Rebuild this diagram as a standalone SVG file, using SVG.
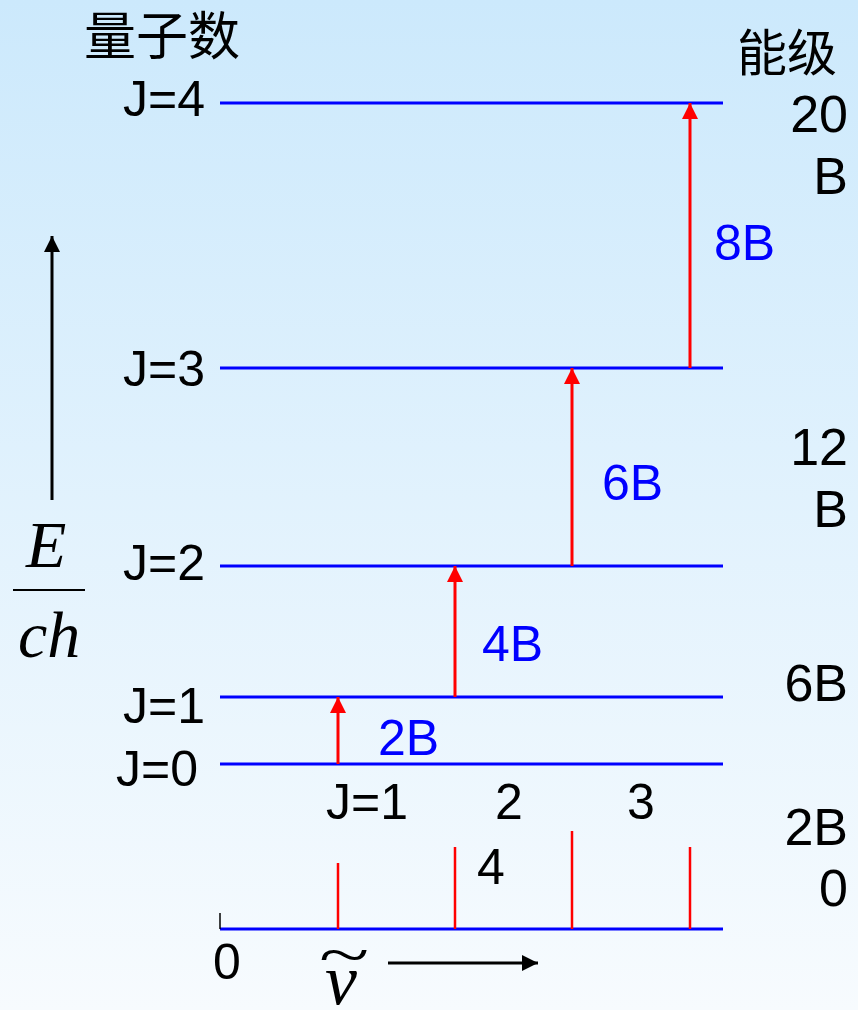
<svg xmlns="http://www.w3.org/2000/svg" width="858" height="1010" viewBox="0 0 858 1010">
<defs>
<linearGradient id="bg" x1="0" y1="0" x2="0" y2="1">
<stop offset="0" stop-color="#cce9fc"/>
<stop offset="1" stop-color="#f7fbfe"/>
</linearGradient>
<marker id="redHead" markerUnits="userSpaceOnUse" markerWidth="16" markerHeight="16" viewBox="0 0 16 16" refX="16" refY="8" orient="auto">
<path d="M0,0 L16,8 L0,16 Z" fill="#ff0000"/>
</marker>
<marker id="blackHead" markerUnits="userSpaceOnUse" markerWidth="16" markerHeight="16" viewBox="0 0 16 16" refX="16" refY="8" orient="auto">
<path d="M0,0 L16,8 L0,16 Z" fill="#000000"/>
</marker>
</defs>
<style>
.lvl{stroke:#0000ff;stroke-width:3;fill:none}
.tr{stroke:#ff0000;stroke-width:3;fill:none;marker-end:url(#redHead)}
.sp{stroke:#ff0000;stroke-width:2.5;fill:none}
.ax{stroke:#000;stroke-width:3;fill:none;marker-end:url(#blackHead)}
.t{font-family:"Liberation Sans",Arial,sans-serif;font-size:50px;fill:#000}
.b{font-family:"Liberation Sans",Arial,sans-serif;font-size:50px;fill:#0000ff}
.cjk{font-family:"Noto Sans CJK SC",sans-serif;font-size:50px;fill:#000}
.m{font-family:"Liberation Serif","Times New Roman",serif;font-style:italic;font-size:66px;fill:#000}
</style>
<rect x="0" y="0" width="858" height="1010" fill="url(#bg)"/>

<g id="headers">
<text class="cjk" x="84" y="55" style="font-size:52px">量子数</text>
<text class="cjk" x="737" y="71">能级</text>
</g>

<g id="level-J4">
<line class="lvl" x1="220" y1="103" x2="723" y2="103"/>
<text class="t" x="123" y="116">J=4</text>
<text class="t" x="848" y="132" text-anchor="end" style="font-size:52px">20</text>
<text class="t" x="848" y="194" text-anchor="end" style="font-size:52px">B</text>
</g>
<g id="level-J3">
<line class="lvl" x1="220" y1="368" x2="723" y2="368"/>
<text class="t" x="123" y="386">J=3</text>
<text class="t" x="848" y="465" text-anchor="end" style="font-size:52px">12</text>
<text class="t" x="848" y="527" text-anchor="end" style="font-size:52px">B</text>
</g>
<g id="level-J2">
<line class="lvl" x1="220" y1="566" x2="723" y2="566"/>
<text class="t" x="123" y="580">J=2</text>
</g>
<g id="level-J1">
<line class="lvl" x1="220" y1="697" x2="723" y2="697"/>
<text class="t" x="123" y="723">J=1</text>
<text class="t" x="848" y="701" text-anchor="end" style="font-size:52px">6B</text>
</g>
<g id="level-J0">
<line class="lvl" x1="220" y1="764" x2="723" y2="764"/>
<text class="t" x="116" y="786">J=0</text>
<text class="t" x="848" y="845" text-anchor="end" style="font-size:52px">2B</text>
<text class="t" x="848" y="906" text-anchor="end" style="font-size:52px">0</text>
</g>

<g id="connectors">
<line class="tr" x1="338" y1="764" x2="338" y2="697"/>
<line class="tr" x1="455" y1="697" x2="455" y2="566"/>
<line class="tr" x1="572" y1="566" x2="572" y2="368"/>
<line class="tr" x1="690" y1="368" x2="690" y2="103"/>
</g>

<g id="transition-labels">
<text class="b" x="378" y="755">2B</text>
<text class="b" x="482" y="661">4B</text>
<text class="b" x="602" y="500">6B</text>
<text class="b" x="714" y="260">8B</text>
</g>

<g id="energy-axis">
<line class="ax" x1="52" y1="500" x2="52" y2="236"/>
<text class="m" x="26" y="567">E</text>
<line x1="13" y1="590" x2="85" y2="590" stroke="#000" stroke-width="2"/>
<text class="m" x="18" y="657">ch</text>
</g>

<g id="spectrum">
<line x1="220" y1="929" x2="723" y2="929" stroke="#0000ff" stroke-width="3"/>
<line x1="220" y1="913" x2="220" y2="929" stroke="#000" stroke-width="1.5"/>
<line class="sp" x1="338" y1="863" x2="338" y2="929"/>
<line class="sp" x1="455" y1="847" x2="455" y2="929"/>
<line class="sp" x1="572" y1="831" x2="572" y2="929"/>
<line class="sp" x1="690" y1="847" x2="690" y2="929"/>
<text class="t" x="326" y="819">J=1</text>
<text class="t" x="495" y="819">2</text>
<text class="t" x="627" y="819">3</text>
<text class="t" x="477" y="884">4</text>
<text class="t" x="213" y="979">0</text>
<text transform="translate(319,975) scale(1.66,1.05)" style="font-family:'Liberation Serif','Times New Roman',serif;font-size:56px;fill:#000">~</text>
<text class="m" x="325" y="1004" style="font-size:72px">v</text>
<line x1="388" y1="963" x2="538" y2="963" stroke="#000" stroke-width="3" marker-end="url(#blackHead)"/>
</g>
</svg>
